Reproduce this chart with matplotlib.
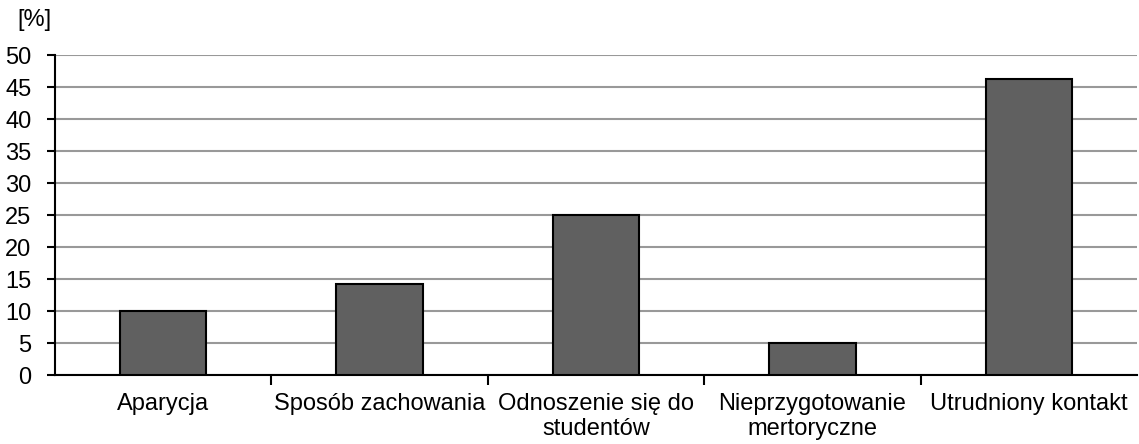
import numpy as np
import matplotlib
matplotlib.use('Agg')
import matplotlib.pyplot as plt

plt.rcParams['font.family'] = ['Liberation Sans', 'DejaVu Sans']

categories = ['Aparycja', 'Sposób zachowania', 'Odnoszenie się do\nstudentów',
              'Nieprzygotowanie\nmertoryczne', 'Utrudniony kontakt']
values = [10, 14.2, 25, 5, 46.3]
yticks = [0, 5, 10, 15, 20, 25, 30, 35, 40, 45, 50]

fig = plt.figure(figsize=(11.39, 4.44), dpi=100)
ax = fig.add_axes([55 / 1139, 1 - 375 / 444, 1082 / 1139, 320 / 444])

x = np.arange(len(categories))
ax.bar(x, values, width=0.4, color='#606060', edgecolor='black', linewidth=1.5, zorder=3)

ax.set_xlim(-0.5, len(categories) - 0.5)
ax.set_ylim(0, 50)
ax.set_yticks(yticks)
ax.yaxis.grid(True, color='#999999', linewidth=1.5, zorder=0)
ax.set_axisbelow(True)

# major ticks at category boundaries, labels on minor ticks at centres
ax.set_xticks(np.arange(0.5, len(categories) - 0.5, 1.0))
ax.set_xticklabels([])
ax.set_xticks(x, minor=True)
ax.set_xticklabels(categories, minor=True, fontsize=17, linespacing=1.15)
ax.tick_params(axis='x', which='minor', length=0, pad=13)
ax.tick_params(axis='x', which='major', length=7, width=1.5, direction='out')
ax.tick_params(axis='y', length=6, width=1.5, labelsize=17, pad=11)

for s in ['top', 'right']:
    ax.spines[s].set_visible(False)
for s in ['left', 'bottom']:
    ax.spines[s].set_linewidth(1.5)

fig.text(17 / 1139, 1 - 20 / 444, '[%]', fontsize=17, va='center', ha='left')

fig.savefig('out.png', dpi=100)
plt.close('all')
